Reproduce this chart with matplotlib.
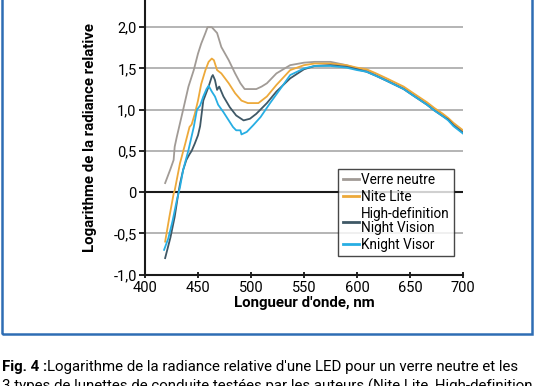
import matplotlib
matplotlib.use("Agg")
import matplotlib.pyplot as plt
from matplotlib.patches import Rectangle

plt.rcParams["font.family"] = ["Roboto", "DejaVu Sans"]

# données (longueur d'onde en nm, log radiance relative)
nm_verre = [419, 424, 427, 428, 430, 436, 441, 446, 450, 453, 457, 459, 463, 468, 472, 479, 485,
            490, 494, 505, 510, 515, 524, 537, 550, 560, 575, 590, 600, 609, 618, 628, 636, 644,
            652, 659, 666, 673, 681, 686, 691, 697, 700]
val_verre = [0.11, 0.28, 0.39, 0.55, 0.67, 1.00, 1.28, 1.48, 1.68, 1.80, 1.93, 2.00, 2.00, 1.93,
             1.76, 1.60, 1.44, 1.32, 1.25, 1.25, 1.28, 1.32, 1.44, 1.54, 1.57, 1.58, 1.58, 1.54,
             1.50, 1.48, 1.42, 1.36, 1.31, 1.26, 1.19, 1.13, 1.07, 1.00, 0.93, 0.89, 0.83, 0.77, 0.74]

nm_nite = [419, 423, 427, 428, 433, 438, 442, 444, 447, 450, 453, 457, 460, 463, 465, 468, 472,
           479, 485, 491, 497, 507, 515, 524, 537, 550, 560, 575, 590, 600, 609, 618, 628, 636,
           644, 652, 659, 666, 673, 681, 686, 691, 697, 700]
val_nite = [-0.60, -0.30, -0.02, 0.02, 0.35, 0.59, 0.79, 0.82, 0.95, 1.11, 1.31, 1.48, 1.58, 1.62,
            1.60, 1.48, 1.44, 1.32, 1.20, 1.11, 1.08, 1.08, 1.16, 1.30, 1.48, 1.54, 1.56, 1.56,
            1.54, 1.51, 1.49, 1.44, 1.38, 1.33, 1.28, 1.21, 1.15, 1.09, 1.02, 0.95, 0.90, 0.84,
            0.78, 0.75]

nm_hdnv = [419, 424, 428, 431, 433, 436, 439, 442, 444, 447, 450, 452, 455, 460, 463, 464, 466,
           468, 470, 474, 480, 486, 493, 499, 505, 515, 524, 537, 550, 560, 575, 590, 600, 609,
           618, 628, 636, 644, 652, 659, 666, 673, 681, 686, 691, 697, 700]
val_hdnv = [-0.80, -0.55, -0.30, -0.05, 0.10, 0.27, 0.39, 0.46, 0.50, 0.59, 0.69, 0.80, 1.11,
            1.28, 1.40, 1.42, 1.36, 1.24, 1.28, 1.16, 1.03, 0.93, 0.87, 0.89, 0.95, 1.08, 1.22,
            1.38, 1.49, 1.53, 1.54, 1.52, 1.49, 1.46, 1.41, 1.35, 1.30, 1.25, 1.18, 1.12, 1.06,
            0.99, 0.92, 0.88, 0.81, 0.75, 0.72]

nm_knight = [418, 422, 426, 430, 433, 436, 441, 446, 449, 452, 455, 458, 460, 463, 466, 469, 474,
             479, 483, 486, 490, 491, 496, 502, 509, 518, 527, 537, 550, 560, 575, 590, 600, 609,
             618, 628, 636, 644, 652, 659, 666, 673, 681, 686, 691, 697, 700]
val_knight = [-0.70, -0.56, -0.35, -0.10, 0.06, 0.27, 0.51, 0.79, 1.00, 1.05, 1.16, 1.25, 1.29,
              1.22, 1.16, 1.06, 0.97, 0.87, 0.79, 0.75, 0.75, 0.70, 0.73, 0.81, 0.91, 1.08, 1.24,
              1.42, 1.50, 1.53, 1.53, 1.51, 1.48, 1.46, 1.41, 1.35, 1.30, 1.25, 1.18, 1.12, 1.06,
              0.99, 0.92, 0.87, 0.80, 0.74, 0.71]

x_ticks = [400, 450, 500, 550, 600, 650, 700]
y_ticks = [-1.0, -0.5, 0, 0.5, 1.0, 1.5, 2.0]
y_labels = ["-1,0", "-0,5", "0", "0,5", "1,0", "1,5", "2,0"]

W, H = 536, 386
fig = plt.figure(figsize=(W / 100, H / 100), dpi=100)
ax = fig.add_axes([145 / W, 1 - 274.6 / H, (463 - 145) / W, 274.6 / H])

for y in [0.5, 1.0, 1.5, 2.0, -0.5]:
    ax.axhline(y, color="#a8a8a8", lw=1.2, zorder=1)
ax.axhline(0, color="#1a1a1a", lw=1.5, zorder=2)

ax.plot(nm_verre, val_verre, color="#a19b96", lw=1.3, label="Verre neutre", zorder=3)
ax.plot(nm_nite, val_nite, color="#eda93a", lw=1.3, label="Nite Lite", zorder=3)
ax.plot(nm_hdnv, val_hdnv, color="#3f5866", lw=1.3, label="High-definition\nNight Vision", zorder=3)
ax.plot(nm_knight, val_knight, color="#27aee3", lw=1.3, label="Knight Visor", zorder=3)

ax.set_xlim(400, 700)
ax.set_ylim(-1.0, 2.33)
ax.set_xticks(x_ticks)
ax.set_yticks(y_ticks)
ax.set_yticklabels(y_labels)
ax.tick_params(axis="x", direction="inout", length=5, width=1.2, labelsize=10.5, pad=2)
ax.tick_params(axis="y", direction="out", length=4, width=1.2, labelsize=10.5, pad=2)
for s in ["top", "right"]:
    ax.spines[s].set_visible(False)
for s in ["left", "bottom"]:
    ax.spines[s].set_linewidth(1.5)
    ax.spines[s].set_color("#1a1a1a")

ax.set_xlabel("Longueur d'onde, nm", fontweight="bold", fontsize=10.8, labelpad=1)
ax.set_ylabel("Logarithme de la radiance relative", fontweight="bold", fontsize=10.8, labelpad=12)

leg = ax.legend(loc="lower right", bbox_to_anchor=(0.972, 0.068), fontsize=9.8, frameon=True,
                fancybox=False, edgecolor="#1a1a1a", handlelength=1.2, handletextpad=0.15,
                labelspacing=0.22, borderpad=0.32, borderaxespad=0)
leg.get_frame().set_linewidth(1.0)
for t in leg.get_texts():
    t.set_linespacing(0.95)
for line in leg.get_lines():
    line.set_linewidth(2)

# cadre bleu
fig.add_artist(Rectangle((2 / W, 1 - 334 / H), 530 / W, 0.95, transform=fig.transFigure,
                         fill=False, edgecolor="#2e6db4", lw=1.8, clip_on=False))

# légende de la figure
fig.text(2 / W, 1 - 371 / H, "Fig. 4 :", fontweight="bold", fontsize=10.8)
fig.text(47 / W, 1 - 371 / H,
         "Logarithme de la radiance relative d'une LED pour un verre neutre et les",
         fontsize=10.8)
fig.text(2 / W, 1 - 391 / H,
         "3 types de lunettes de conduite testées par les auteurs (Nite Lite, High-definition",
         fontsize=10.8)

fig.savefig("out.png", dpi=100)
